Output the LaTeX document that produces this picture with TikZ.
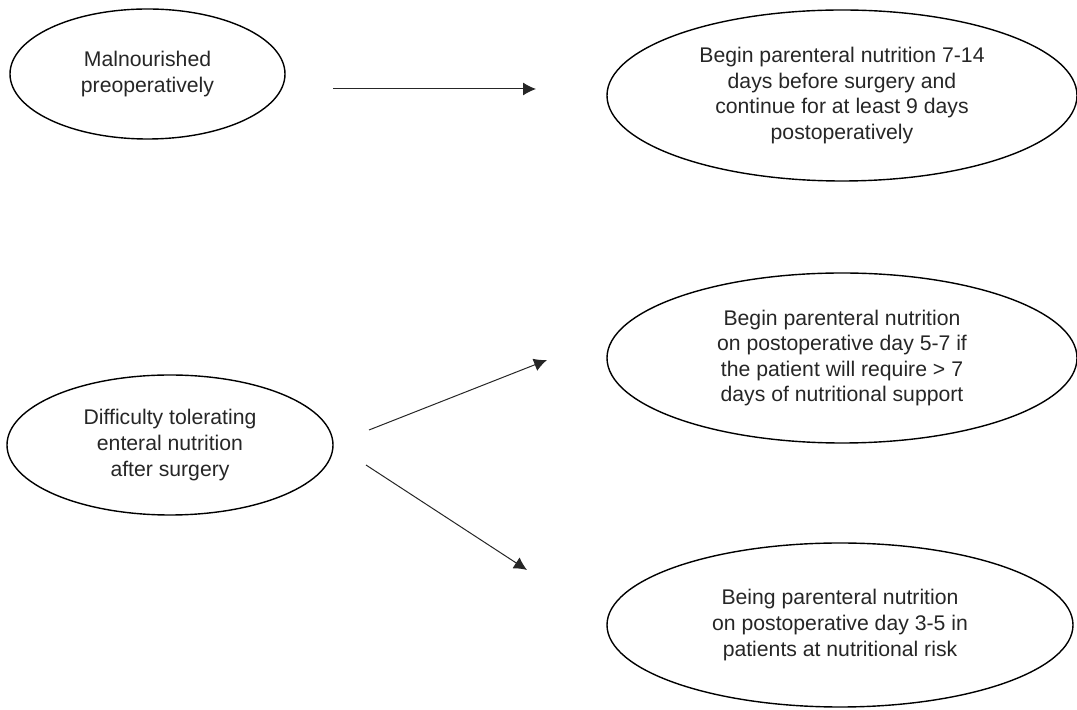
\documentclass[tikz,border=0pt]{standalone}
\usepackage{fontspec}
\setmainfont{Liberation Sans}
\usetikzlibrary{shapes,arrows.meta}

\begin{document}
\begin{tikzpicture}[x=.5pt,y=-.5pt,
  oval/.style={ellipse,draw,line width=.7pt,inner sep=0pt,align=center,
    font=\fontsize{10.6}{12.8}\selectfont,text=black!85},
  link/.style={-{Latex[length=6.5pt,width=6.5pt]},line width=.5pt,black!85}]
\useasboundingbox (0,0) rectangle (1077,710);
% left side
\node[oval,minimum width=137.5pt,minimum height=65pt] (malnour) at (147.5,74)
  {Malnourished\\preoperatively};
\node[oval,minimum width=163pt,minimum height=70pt] (difficult) at (170,445)
  {Difficulty tolerating\\enteral nutrition\\after surgery};
% right side
\node[oval,minimum width=235pt,minimum height=85.5pt] (preop) at (842,95.5)
  {Begin parenteral nutrition 7-14\\days before surgery and\\continue for at least 9 days\\postoperatively};
\node[oval,minimum width=235pt,minimum height=85pt] (postfive) at (842,358)
  {Begin parenteral nutrition\\on postoperative day 5-7 if\\the patient will require > 7\\days of nutritional support};
\node[oval,minimum width=233pt,minimum height=82pt] (postthree) at (840,625)
  {Being parenteral nutrition\\on postoperative day 3-5 in\\patients at nutritional risk};
% arrows
\coordinate (a1) at (333,89); \coordinate (a2) at (536,89);
\coordinate (b1) at (369,430); \coordinate (b2) at (547,360);
\coordinate (c1) at (366,465); \coordinate (c2) at (527,570);
\draw[link] (a1) -- (a2);
\draw[link] (b1) -- (b2);
\draw[link] (c1) -- (c2);
\end{tikzpicture}
\end{document}
